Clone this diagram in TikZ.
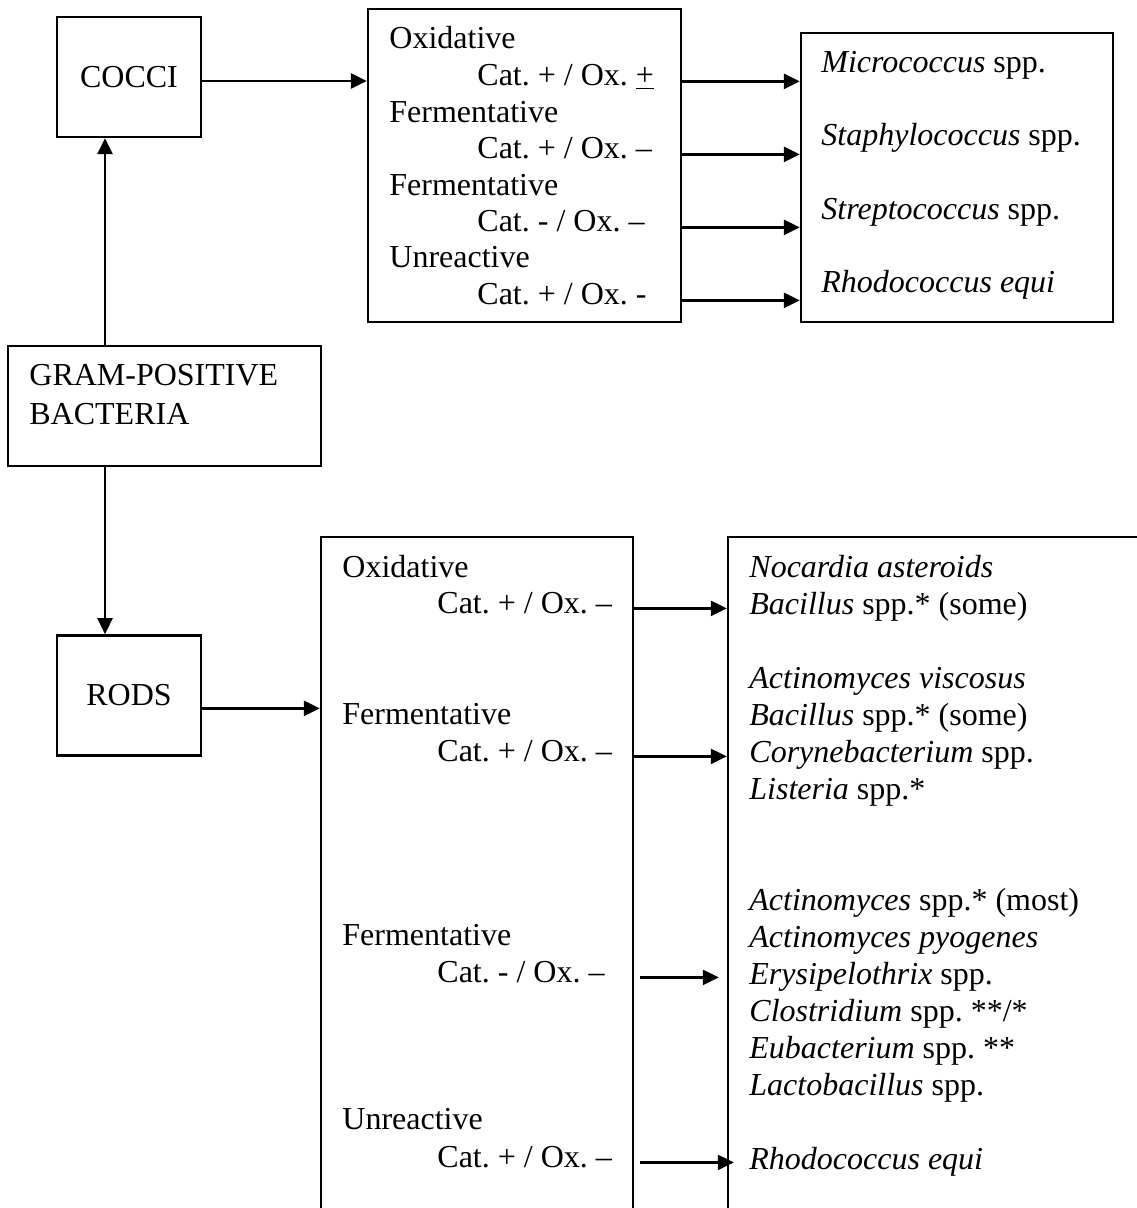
\documentclass[tikz,border=0pt]{standalone}
\usepackage{fontspec}
\setmainfont{Liberation Serif}
\usetikzlibrary{positioning, arrows.meta}
\frenchspacing

\begin{document}
\begin{tikzpicture}[x=0.5pt, y=-0.5pt, font=\fontsize{16}{18.5}\selectfont]
    \tikzstyle{box} = [draw, rectangle, line width=1.2pt, inner sep=0pt];
    \tikzstyle{line} = [anchor=base west, inner sep=0pt];
    \tikzstyle{list} = [anchor=north west, inner sep=0pt, align=left];
    \tikzstyle{link} = [line width=1.3pt, -{Triangle[length=8pt, width=7.5pt]}];

    \useasboundingbox (0, 0) rectangle (1136, 1208);

    % left column
    \node[box, minimum width=156.5pt, minimum height=60pt] (gp) at (164.5, 406) {};
    \node[line] (gp1) at (29, 385) {GRAM-POSITIVE};
    \node[line] (gp2) at (29, 424) {BACTERIA};
    \node[box, minimum width=72pt, minimum height=60pt] (cocci) at (129, 77) {COCCI};
    \node[box, minimum width=72pt, minimum height=60pt, below right = 83.5pt and 24.5pt of gp.south west] (rods) {RODS};

    % cocci tests
    \node[box, minimum width=156.5pt, minimum height=156.5pt] (mt) at (524.5, 165.5) {};
    \node[line] (o1) at (389, 49) {Oxidative};
    \node[line] (c1) at (477, 86) {Cat. + / Ox. \underline{+}};
    \node[line] (f1) at (389, 123) {Fermentative};
    \node[line] (c2) at (477, 159) {Cat. + / Ox. --};
    \node[line] (f2) at (389, 196) {Fermentative};
    \node[line] (c3) at (477, 232) {Cat. - / Ox. --};
    \node[line] (u1) at (389, 268) {Unreactive};
    \node[line] (c4) at (477, 305) {Cat. + / Ox. -};

    \node[box, minimum width=156pt, minimum height=144.5pt] (rt) at (957, 177.5) {};
    \node[list] (cocci list) at (821, 51) {\textit{Micrococcus} spp.\\[18.2pt]
        \textit{Staphylococcus} spp.\\[18.2pt]
        \textit{Streptococcus} spp.\\[18.2pt]
        \textit{Rhodococcus equi}};

    % rod tests
    \node[box, minimum width=156pt, minimum height=361.5pt] (mb) at (477, 898.5) {};
    \node[line] (o2) at (342, 577) {Oxidative};
    \node[line] (c5) at (437, 613) {Cat. + / Ox. --};
    \node[line] (f3) at (342, 724) {Fermentative};
    \node[line] (c6) at (437, 761) {Cat. + / Ox. --};
    \node[line] (f4) at (342, 945) {Fermentative};
    \node[line] (c7) at (437, 982) {Cat. - / Ox. --};
    \node[line] (u2) at (342, 1129) {Unreactive};
    \node[line] (c8) at (437, 1167) {Cat. + / Ox. --};

    \node[box, minimum width=226pt, minimum height=361.5pt] (rb) at (954, 898.5) {};
    \node[list] (rods list) at (749, 555) {\textit{Nocardia asteroids}\\
        \textit{Bacillus} spp.* (some)\\[18.5pt]
        \textit{Actinomyces viscosus}\\
        \textit{Bacillus} spp.* (some)\\
        \textit{Corynebacterium} spp.\\
        \textit{Listeria} spp.*\\[37pt]
        \textit{Actinomyces} spp.* (most)\\
        \textit{Actinomyces pyogenes}\\
        \textit{Erysipelothrix} spp.\\
        \textit{Clostridium} spp. **/*\\
        \textit{Eubacterium} spp. **\\
        \textit{Lactobacillus} spp.\\[18.5pt]
        \textit{Rhodococcus equi}};

    \coordinate (stem) at (105, 0);
    \coordinate (cocci out) at ([yshift=-2pt]cocci.east);
    \coordinate (rods out) at ([yshift=-6.5pt]rods.east);

    \draw[link] (stem |- gp.north) -- (stem |- cocci.south);
    \draw[link] (stem |- gp.south) -- (stem |- rods.north);
    \draw[link] (cocci out) -- (cocci out -| mt.west);
    \draw[link] (rods out) -- (rods out -| mb.west);

    \draw[link] (mt.east |- c1.mid) -- (rt.west |- c1.mid);
    \draw[link] (mt.east |- c2.mid) -- (rt.west |- c2.mid);
    \draw[link] (mt.east |- c3.mid) -- (rt.west |- c3.mid);
    \draw[link] (mt.east |- c4.mid) -- (rt.west |- c4.mid);

    \draw[link] (mb.east |- c5.mid) -- (rb.west |- c5.mid);
    \draw[link] (mb.east |- c6.mid) -- (rb.west |- c6.mid);
    \draw[link, shorten <=3pt, shorten >=4pt] (mb.east |- c7.mid) -- (rb.west |- c7.mid);
    \draw[link, shorten <=3pt, shorten >=-3.5pt] (mb.east |- c8.mid) -- (rb.west |- c8.mid);
\end{tikzpicture}
\end{document}
